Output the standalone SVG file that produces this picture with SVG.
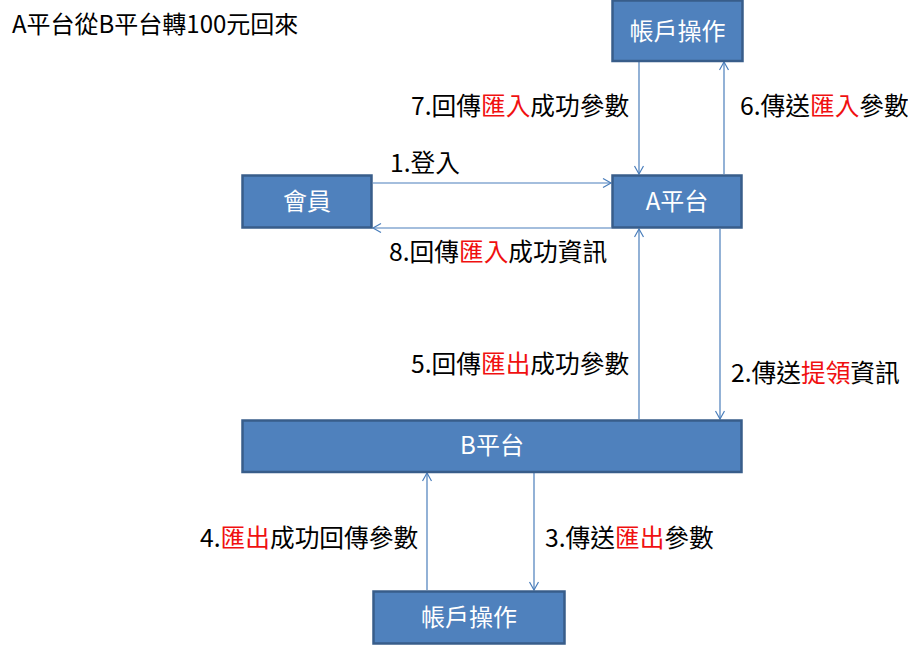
<svg xmlns="http://www.w3.org/2000/svg" width="908" height="648" viewBox="0 0 908 648">
<style>
.box{fill:#4f81bd;stroke:#385d8a;stroke-width:2.5}
.bt{font-family:"Noto Sans CJK TC","Noto Sans CJK SC",sans-serif;font-size:24px;fill:#fff;text-anchor:middle}
.lb{font-family:"Noto Sans CJK TC","Noto Sans CJK SC",sans-serif;font-size:24.7px;fill:#000}
.r{fill:#f01010}
.ln{stroke:#4a7ebb;stroke-width:1.2;fill:none;marker-end:url(#ah)}
</style>
<defs>
<marker id="ah" markerUnits="userSpaceOnUse" markerWidth="12" markerHeight="12" refX="9" refY="5" orient="auto">
<path d="M1,0.5 L9,5 L1,9.5" fill="none" stroke="#4a7ebb" stroke-width="1.2"/>
</marker>
</defs>
<text id="title" x="12" y="33" style="font-family:'Noto Sans CJK TC','Noto Sans CJK SC',sans-serif;font-size:24px;fill:#000">A平台從B平台轉100元回來</text>
<g id="connectors">
<line class="ln" x1="373" y1="183" x2="611" y2="183"/>
<line class="ln" x1="611" y1="228" x2="373" y2="228"/>
<line class="ln" x1="639" y1="62" x2="639" y2="174"/>
<line class="ln" x1="724" y1="174" x2="724" y2="62"/>
<line class="ln" x1="639" y1="419" x2="639" y2="229"/>
<line class="ln" x1="720" y1="229" x2="720" y2="419"/>
<line class="ln" x1="427" y1="590" x2="427" y2="473"/>
<line class="ln" x1="534" y1="473" x2="534" y2="590"/>
</g>
<g id="labels">
<text class="lb" x="390" y="172">1.登入</text>
<text class="lb" x="389" y="261">8.回傳<tspan class="r">匯入</tspan>成功資訊</text>
<text class="lb" x="411" y="115">7.回傳<tspan class="r">匯入</tspan>成功參數</text>
<text class="lb" x="740" y="115">6.傳送<tspan class="r">匯入</tspan>參數</text>
<text class="lb" x="411" y="373">5.回傳<tspan class="r">匯出</tspan>成功參數</text>
<text class="lb" x="731" y="382">2.傳送<tspan class="r">提領</tspan>資訊</text>
<text class="lb" x="200" y="547">4.<tspan class="r">匯出</tspan>成功回傳參數</text>
<text class="lb" x="545" y="547">3.傳送<tspan class="r">匯出</tspan>參數</text>
</g>
<g id="account-top">
<rect class="box" x="612.5" y="0.5" width="130" height="60.5"/>
<text class="bt" x="677.5" y="40">帳戶操作</text>
</g>
<g id="member">
<rect class="box" x="242.5" y="175.5" width="129" height="52"/>
<text class="bt" x="307" y="210">會員</text>
</g>
<g id="platform-a">
<rect class="box" x="612.5" y="175.5" width="129" height="52"/>
<text class="bt" x="677" y="210">A平台</text>
</g>
<g id="platform-b">
<rect class="box" x="242.5" y="420.5" width="499" height="51.5"/>
<text class="bt" x="492" y="454">B平台</text>
</g>
<g id="account-bottom">
<rect class="box" x="373.5" y="591.5" width="191" height="52"/>
<text class="bt" x="469" y="626">帳戶操作</text>
</g>
</svg>
